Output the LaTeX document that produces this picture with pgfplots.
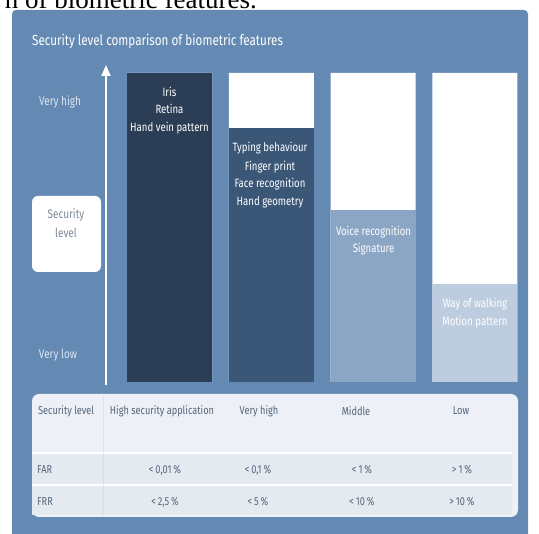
\documentclass[border=0pt]{standalone}
\usepackage{pgfplots}
\pgfplotsset{compat=1.18}
\usetikzlibrary{arrows.meta}
\usepackage{fontspec}
\setmainfont{Fira Sans}[FakeStretch=0.8]
\newfontfamily\capserif{Liberation Serif}
\definecolor{panel}{HTML}{6489B3}
\definecolor{cA}{HTML}{2C3E55}
\definecolor{cB}{HTML}{3B5778}
\definecolor{cC}{HTML}{8BA6C4}
\definecolor{cD}{HTML}{BDCDDF}
\definecolor{tablebg}{HTML}{EDF1F7}
\definecolor{rowbg}{HTML}{E5EAF1}
\definecolor{tabtext}{HTML}{55657A}
\definecolor{lbl}{HTML}{DCE5F0}
\definecolor{boxtext}{HTML}{7C8A99}
\begin{document}
\begin{tikzpicture}[x=1pt,y=1pt]
\useasboundingbox (0,0) rectangle (539,534);
\clip (0,0) rectangle (539,534);
\fill[white] (0,0) rectangle (539,534);
% cropped caption
\node[anchor=base east, inner sep=0pt, font=\capserif\fontsize{27}{30}\selectfont] at (257,525.5) {n of biometric features.};
% panel
\fill[panel, rounded corners=4pt] (12,-10) rectangle (528,524);
% title
\node[anchor=west, text=white, inner sep=0pt, font=\fontsize{14.6}{16}\selectfont] at (32,493) {Security level comparison of biometric features};
% bars
\begin{axis}[at={(118.6pt,152pt)}, anchor=south west, scale only axis,
  width=407.2pt, height=309pt, xmin=-0.5, xmax=3.5, ymin=0, ymax=100,
  axis lines=none, ybar, bar width=85pt, clip=false]
\addplot[fill=white, draw=none, bar shift=0pt] coordinates {(0,100) (1,100) (2,100) (3,100)};
\addplot[fill=cA, draw=none, bar shift=0pt] coordinates {(0,100)};
\addplot[fill=cB, draw=none, bar shift=0pt] coordinates {(1,82.2)};
\addplot[fill=cC, draw=none, bar shift=0pt] coordinates {(2,55.7)};
\addplot[fill=cD, draw=none, bar shift=0pt] coordinates {(3,31.7)};
\end{axis}
% bar texts
\begin{scope}[every node/.style={text=white, inner sep=0pt, font=\fontsize{12}{14}\selectfont}]
\node at (169.5,442) {Iris};
\node at (169.5,425) {Retina};
\node at (169.5,406) {Hand vein pattern};
\node at (270,386) {Typing behaviour};
\node at (270,367) {Finger print};
\node at (270,350) {Face recognition};
\node at (270,332) {Hand geometry};
\node at (373.5,302) {Voice recognition};
\node at (373.5,285) {Signature};
\node at (475,230) {Way of walking};
\node at (475,212) {Motion pattern};
\end{scope}
% arrow axis
\draw[white, line width=1.8pt, -{Triangle[width=9pt,length=11pt]}] (106,149) -- (106,469);
\node[text=lbl, inner sep=0pt, font=\fontsize{12.5}{14}\selectfont] at (60,432) {Very high};
\node[text=lbl, inner sep=0pt, font=\fontsize{12.5}{14}\selectfont] at (58,179) {Very low};
\fill[white, rounded corners=6pt] (32,338) rectangle (101,262);
\node[text=boxtext, inner sep=0pt, font=\fontsize{12.5}{14}\selectfont] at (66,319) {Security};
\node[text=boxtext, inner sep=0pt, font=\fontsize{12.5}{14}\selectfont] at (66,301) {level};
% table
\fill[tablebg, rounded corners=7pt] (32,140) rectangle (518,17);
\fill[rowbg] (32,81) rectangle (512,50);
\fill[rowbg] (32,49) rectangle (512,19);
\draw[white, line width=1.5pt] (32,81) -- (512,81);
\draw[white, line width=1.5pt] (32,49) -- (512,49);
\draw[rowbg!80!gray, line width=0.6pt, opacity=0.5] (103,138) -- (103,19);
\begin{scope}[every node/.style={text=tabtext, inner sep=0pt, font=\fontsize{11.5}{13}\selectfont}]
\node[anchor=west] at (38,123) {Security level};
\node at (162,123) {High security application};
\node at (259,123) {Very high};
\node at (356,123) {Middle};
\node at (461,123) {Low};
\node[anchor=west] at (37,64) {FAR};
\node at (165,64) {<\,0,01\,\%};
\node at (258,64) {<\,0,1\,\%};
\node at (362,64) {<\,1\,\%};
\node at (462,64) {>\,1\,\%};
\node[anchor=west] at (37,32) {FRR};
\node at (165,32) {<\,2,5\,\%};
\node at (258,32) {<\,5\,\%};
\node at (362,32) {<\,10\,\%};
\node at (462,32) {>\,10\,\%};
\end{scope}
\end{tikzpicture}
\end{document}
